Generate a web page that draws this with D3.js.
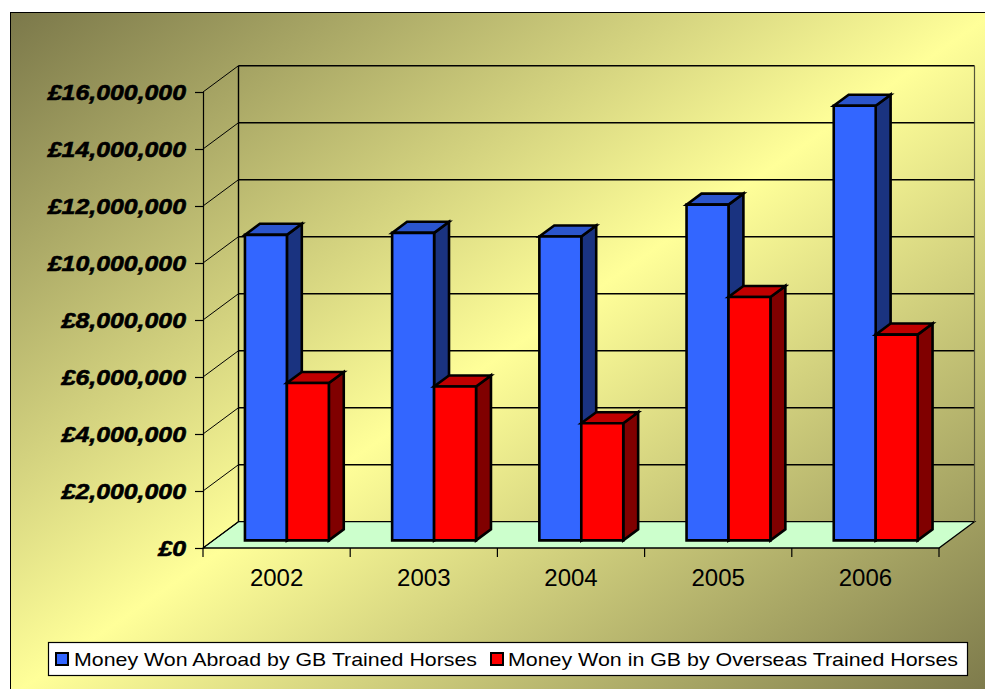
<!DOCTYPE html>
<html>
<head>
<meta charset="utf-8">
<script src="https://cdn.jsdelivr.net/npm/d3@7"></script>
<style>
  html, body { margin: 0; padding: 0; background: #ffffff; }
  svg { display: block; }
</style>
</head>
<body>
<svg id="chart" width="985" height="689"></svg>
<script>
// ---- Data ----
const categories = ["2002", "2003", "2004", "2005", "2006"];
const seriesNames = ["Money Won Abroad by GB Trained Horses", "Money Won in GB by Overseas Trained Horses"];
const abroadValues = [10720000, 10790000, 10660000, 11780000, 15250000];
const inGBValues = [5520000, 5400000, 4110000, 8540000, 7220000];
const yTickValues = [0, 2000000, 4000000, 6000000, 8000000, 10000000, 12000000, 14000000, 16000000];

// ---- Layout ----
const svg = d3.select("#chart");
const frame = { x: 10, y: 12, w: 984, h: 684 };
const plot = { left: 203, right: 939, bottom: 548, top: 92 };
const depth = { dx: 35.5, dy: -26.3 };
const barDepth = { f1: 0.29, f2: 0.71 };

const seriesColors = [
  { front: "#3366ff", top: "#2b55cc", side: "#1a3380" },
  { front: "#ff0000", top: "#c00000", side: "#800000" }
];

const defs = svg.append("defs");
const grad = defs.append("linearGradient").attr("id", "bg")
  .attr("x1", 0).attr("y1", 0).attr("x2", 1).attr("y2", 1);
grad.append("stop").attr("offset", "0%").attr("stop-color", "#7b784a");
grad.append("stop").attr("offset", "50%").attr("stop-color", "#ffff99");
grad.append("stop").attr("offset", "100%").attr("stop-color", "#7b784a");

svg.append("rect").attr("x", frame.x + 0.5).attr("y", frame.y + 0.5)
  .attr("width", frame.w).attr("height", frame.h)
  .attr("fill", "url(#bg)").attr("stroke", "#000").attr("stroke-width", 1);

const y = d3.scaleLinear().domain([0, 16000000]).range([plot.bottom, plot.top]);
const x0 = d3.scaleBand().domain(categories).range([plot.left, plot.right])
  .paddingInner(0.43).paddingOuter(0.215);
const x1 = d3.scaleBand().domain([0, 1]).range([0, x0.bandwidth()]);
const step = (plot.right - plot.left) / categories.length;

function proj(px, v, f) {
  return [px + f * depth.dx, y(v) + f * depth.dy];
}
const line = d3.line();

// Floor
const floorPts = [proj(plot.left, 0, 0), proj(plot.right, 0, 0), proj(plot.right, 0, 1), proj(plot.left, 0, 1)];
svg.append("path").attr("d", line(floorPts) + "Z")
  .attr("fill", "#ccffcc").attr("stroke", "#000").attr("stroke-width", 1.3);

// Back wall gridlines and side wall lines
const grid = svg.append("g");
yTickValues.forEach(t => {
  if (t > 0) {
    grid.append("path").attr("d", line([proj(plot.left, t, 1), proj(plot.right, t, 1)]))
      .attr("stroke", "#000").attr("stroke-width", 1.4).attr("fill", "none");
  }
  grid.append("path").attr("d", line([proj(plot.left, t, 0), proj(plot.left, t, 1)]))
    .attr("stroke", "#000").attr("stroke-width", 1).attr("fill", "none");
});
grid.append("path").attr("d", line([proj(plot.left, 0, 1), proj(plot.left, 16000000, 1)]))
  .attr("stroke", "#000").attr("stroke-width", 1.4);
grid.append("path").attr("d", line([proj(plot.right, 0, 1), proj(plot.right, 16000000, 1)]))
  .attr("stroke", "#55553a").attr("stroke-width", 1.2);

// Y axis (front-left)
const yAxis = d3.axisLeft(y).tickValues(yTickValues).tickSize(8).tickPadding(9)
  .tickFormat(d => "£" + d3.format(",")(d));
const gy = svg.append("g").attr("transform", `translate(${plot.left},0)`).call(yAxis);
gy.select(".domain").attr("stroke", "#000").attr("stroke-width", 1.2);
gy.selectAll(".tick line").attr("stroke", "#000").attr("stroke-width", 1.2);
gy.selectAll(".tick text")
  .attr("font-family", "Arial, 'Liberation Sans', sans-serif")
  .attr("font-size", 22).attr("font-weight", "bold").attr("font-style", "italic")
  .attr("fill", "#000").attr("stroke", "#000").attr("stroke-width", 0.6)
  .each(function () {
    const n = this.getComputedTextLength();
    d3.select(this).attr("textLength", n * 1.13).attr("lengthAdjust", "spacingAndGlyphs");
  });

// X axis (front-bottom)
const gx = svg.append("g").attr("transform", `translate(0,${plot.bottom})`);
d3.range(categories.length + 1).forEach(i => {
  gx.append("line").attr("x1", plot.left + i * step).attr("x2", plot.left + i * step)
    .attr("y1", 0).attr("y2", 9).attr("stroke", "#000").attr("stroke-width", 1.2);
});
gx.selectAll("text.cat").data(categories).enter().append("text")
  .attr("class", "cat")
  .attr("x", (d, i) => plot.left + (i + 0.5) * step)
  .attr("y", 38)
  .attr("text-anchor", "middle")
  .attr("font-family", "Arial, 'Liberation Sans', sans-serif")
  .attr("font-size", 24)
  .attr("fill", "#000")
  .text(d => d);

// Bars
const barData = [];
categories.forEach((c, i) => {
  [abroadValues[i], inGBValues[i]].forEach((v, s) => barData.push({ c, s, v }));
});
const bars = svg.append("g");
barData.forEach(d => {
  const xl = x0(d.c) + x1(d.s);
  const xr = xl + x1.bandwidth();
  const col = seriesColors[d.s];
  const g = bars.append("g").attr("stroke", "#000").attr("stroke-width", 2.6).attr("stroke-linejoin", "miter");
  g.append("path").attr("d", line([proj(xr, 0, barDepth.f1), proj(xr, d.v, barDepth.f1), proj(xr, d.v, barDepth.f2), proj(xr, 0, barDepth.f2)]) + "Z")
    .attr("fill", col.side);
  g.append("path").attr("d", line([proj(xl, d.v, barDepth.f1), proj(xr, d.v, barDepth.f1), proj(xr, d.v, barDepth.f2), proj(xl, d.v, barDepth.f2)]) + "Z")
    .attr("fill", col.top);
  g.append("path").attr("d", line([proj(xl, 0, barDepth.f1), proj(xr, 0, barDepth.f1), proj(xr, d.v, barDepth.f1), proj(xl, d.v, barDepth.f1)]) + "Z")
    .attr("fill", col.front);
});

// Legend
const leg = svg.append("g");
const legBox = { x: 48, y: 642, w: 919, h: 33 };
leg.append("rect").attr("x", legBox.x + 0.5).attr("y", legBox.y + 0.5)
  .attr("width", legBox.w).attr("height", legBox.h)
  .attr("fill", "#fff").attr("stroke", "#000").attr("stroke-width", 1.2);
const legendItems = [{ sx: 56, tx: 74, tw: 403 }, { sx: 491, tx: 508, tw: 450 }];
seriesNames.forEach((name, s) => {
  const it = legendItems[s];
  leg.append("rect").attr("x", it.sx).attr("y", legBox.y + 11).attr("width", 12).attr("height", 12)
    .attr("fill", seriesColors[s].front).attr("stroke", "#000").attr("stroke-width", 2);
  leg.append("text").attr("x", it.tx).attr("y", legBox.y + 24)
    .attr("font-family", "Arial, 'Liberation Sans', sans-serif")
    .attr("font-size", 19).attr("fill", "#000")
    .attr("textLength", it.tw).attr("lengthAdjust", "spacingAndGlyphs")
    .text(name);
});
</script>
</body>
</html>
